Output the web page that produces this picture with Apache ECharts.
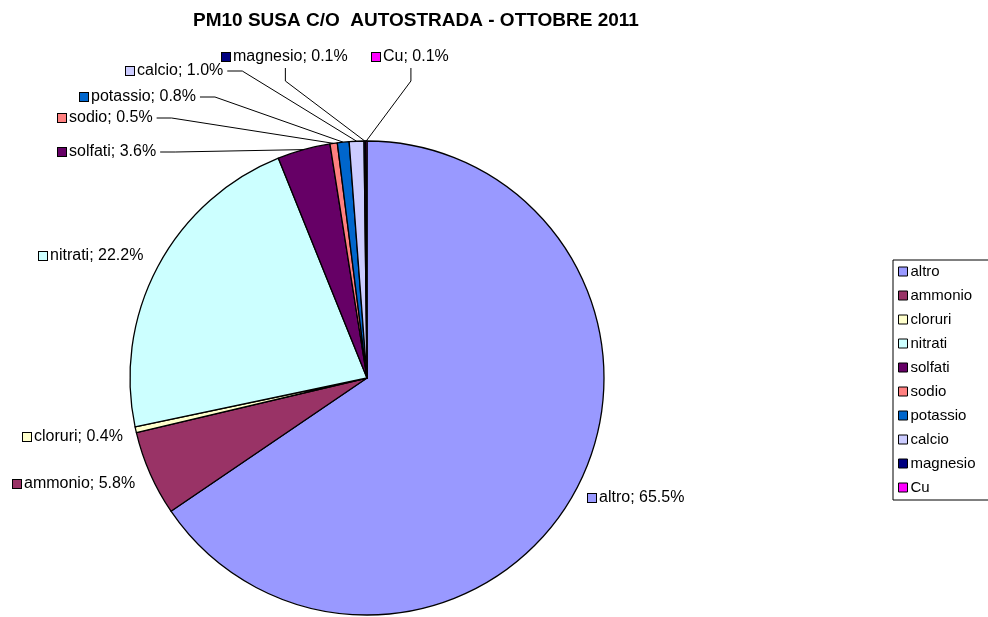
<!DOCTYPE html>
<html>
<head>
<meta charset="utf-8">
<title>PM10 SUSA C/O AUTOSTRADA - OTTOBRE 2011</title>
<script src="https://cdn.jsdelivr.net/npm/echarts@6/dist/echarts.min.js"></script>
<style>
  html, body { margin: 0; padding: 0; background: #fff; }
  #chart { width: 988px; height: 617px; }
</style>
</head>
<body>
<div id="chart"></div>
<script>
// componenti del PM10 (%)
const names = ['altro', 'ammonio', 'cloruri', 'nitrati', 'solfati', 'sodio', 'potassio', 'calcio', 'magnesio', 'Cu']
const values = [65.5, 5.8, 0.4, 22.2, 3.6, 0.5, 0.8, 1.0, 0.1, 0.1]
const colors = ['#9999FF', '#993366', '#FFFFCC', '#CCFFFF', '#660066', '#FF8080', '#0066CC', '#CCCCFF', '#000080', '#FF00FF']

// posizione etichette (bordo sinistro, centro verticale) e tipo di linea guida
const labelPos = [
    [588, 498], [13, 484], [23, 437], [39, 256], [58, 152],
    [58, 118], [80, 97], [126, 71], [222, 57], [372, 57]
]
const guide = ['', '', '', '', 'h', 'h', 'h', 'h', 'v', 'v']

const rich = { t: { fontSize: 16, color: '#000', padding: [0, 0, 0, 3] } }
colors.forEach((c, i) => {
    rich['c' + i] = { width: 8, height: 8, backgroundColor: c, borderColor: '#000', borderWidth: 1 }
})

const chart = echarts.init(document.getElementById('chart'), null, { renderer: 'canvas' })
chart.setOption({
    backgroundColor: '#fff',
    animation: false,
    textStyle: { fontFamily: '"Liberation Sans", Arial, sans-serif' },
    title: {
        text: 'PM10 SUSA C/O  AUTOSTRADA - OTTOBRE 2011',
        left: 193,
        top: 11,
        padding: 0,
        textStyle: { fontSize: 19, fontWeight: 'bold', color: '#000' }
    },
    legend: {
        orient: 'vertical',
        left: 893,
        top: 260,
        padding: [3, 40, 4, 5],
        borderColor: '#000',
        borderWidth: 1,
        itemWidth: 9,
        itemHeight: 9,
        itemGap: 7,
        icon: 'rect',
        itemStyle: { borderColor: '#000', borderWidth: 1 },
        textStyle: { fontSize: 15, color: '#000', lineHeight: 17, padding: [0, 0, 0, -2] },
        data: names
    },
    series: [{
        type: 'pie',
        center: [367, 378],
        radius: 237,
        startAngle: 90,
        clockwise: true,
        avoidLabelOverlap: false,
        itemStyle: { borderColor: '#000', borderWidth: 1.3 },
        emphasis: { disabled: true },
        label: {
            show: true,
            position: 'outside',
            formatter: p => `{c${p.dataIndex}|}{t|${p.name}; ${p.value.toFixed(1)}%}`,
            rich: rich
        },
        labelLine: {
            show: true,
            lineStyle: { color: '#000', width: 1 }
        },
        labelLayout: function (params) {
            const i = params.dataIndex
            const [x, y] = labelPos[i]
            const r = params.labelRect
            const out = { x: x, y: y, align: 'left', verticalAlign: 'middle', hideOverlap: false }
            const start = params.labelLinePoints && params.labelLinePoints[0]
            if (start && guide[i] === 'h') {
                const end = [x + r.width + 3, y]
                out.labelLinePoints = [start, [end[0] + 15, y], end]
            } else if (start && guide[i] === 'v') {
                const end = [x + r.width / 2, y + r.height / 2 + 3]
                out.labelLinePoints = [start, [end[0], end[1] + 13], end]
            }
            return out
        },
        data: names.map((n, i) => ({
            name: n,
            value: values[i],
            itemStyle: { color: colors[i] },
            labelLine: { show: guide[i] !== '' }
        }))
    }]
})
</script>
</body>
</html>
